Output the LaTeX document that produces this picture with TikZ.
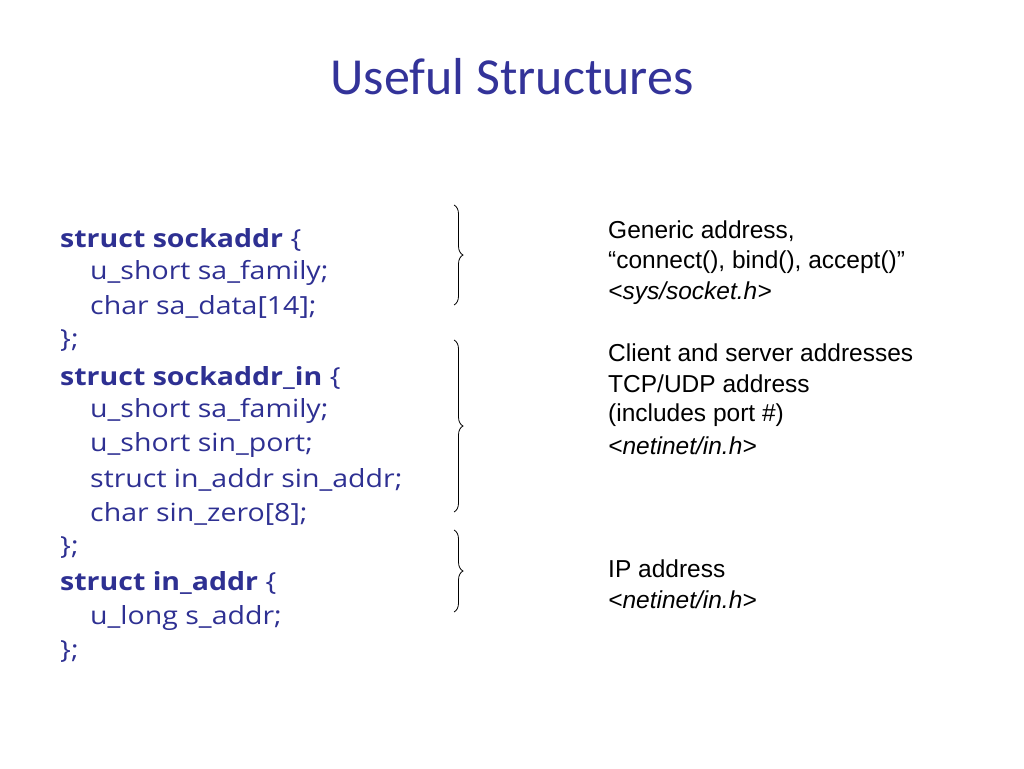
\documentclass[tikz,border=0pt]{standalone}
\usepackage{fontspec}
\setmainfont{Liberation Sans}
\newfontfamily\titlefont{Carlito}
\newfontfamily\codefont[FakeStretch=1.14]{Open Sans}
\usetikzlibrary{decorations.pathreplacing}
\definecolor{codeblue}{RGB}{46,48,146}
\definecolor{titleblue}{RGB}{51,51,153}
\begin{document}
\begin{tikzpicture}[x=1pt,y=-1pt,
  code/.style={anchor=west,inner sep=0pt,text=codeblue,font=\codefont\fontsize{25}{28}\selectfont},
  note/.style={anchor=west,inner sep=0pt,font=\fontsize{24.5}{28}\selectfont},
  brc/.style={decorate,decoration={brace,amplitude=9pt},line width=0.8pt}]
\useasboundingbox (0,0) rectangle (1024,768);
\node[inner sep=0pt,text=titleblue,font=\titlefont\fontsize{52}{58}\selectfont] (title) at (512,77) {Useful Structures};
\node[code] (l1) at (60,240) {\textbf{struct sockaddr} \{};
\node[code] (l2) at (90,273) {u\_short sa\_family;};
\node[code] (l3) at (90,307) {char sa\_data[14];};
\node[code] (l4) at (60,341) {\};};
\node[code] (l5) at (60,378) {\textbf{struct sockaddr\_in} \{};
\node[code] (l6) at (90,411) {u\_short sa\_family;};
\node[code] (l7) at (90,445) {u\_short sin\_port;};
\node[code] (l8) at (90,480) {struct in\_addr sin\_addr;};
\node[code] (l9) at (90,514) {char sin\_zero[8];};
\node[code] (l10) at (60,548) {\};};
\node[code] (l11) at (60,583) {\textbf{struct in\_addr} \{};
\node[code] (l12) at (90,618) {u\_long s\_addr;};
\node[code] (l13) at (60,652) {\};};
\coordinate (b1t) at (454,205); \coordinate (b1b) at (454,305);
\coordinate (b2t) at (454,340); \coordinate (b2b) at (454,512);
\coordinate (b3t) at (454,530); \coordinate (b3b) at (454,612);
\draw[brc] (b1t) -- (b1b);
\draw[brc] (b2t) -- (b2b);
\draw[brc] (b3t) -- (b3b);
\node[note] (n1) at (608,231) {Generic address,};
\node[note] (n2) at (608,262) {“connect(), bind(), accept()”};
\node[note] (n3) at (608,293) {\textit{<sys/socket.h>}};
\node[note] (n4) at (608,353) {Client and server addresses};
\node[note] (n5) at (608,384) {TCP/UDP address};
\node[note] (n6) at (608,415) {(includes port \#)};
\node[note] (n7) at (608,446) {\textit{<netinet/in.h>}};
\node[note] (n8) at (608,569) {IP address};
\node[note] (n9) at (608,600) {\textit{<netinet/in.h>}};
\end{tikzpicture}
\end{document}
